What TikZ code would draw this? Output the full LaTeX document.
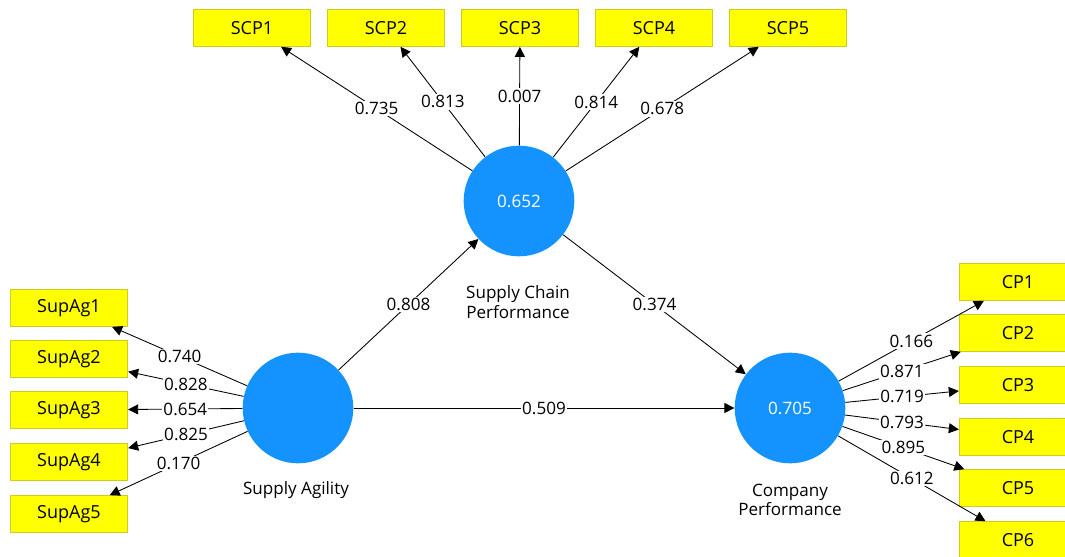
\documentclass[tikz,border=0pt]{standalone}
\usepackage{fontspec}
\setmainfont{Open Sans}
\usepackage{tikz}
\usetikzlibrary{arrows.meta}
\definecolor{lvblue}{RGB}{20,147,255}
\definecolor{mvyellow}{RGB}{255,255,0}
\definecolor{mvborder}{RGB}{205,205,30}
\tikzstyle{latent}=[circle,fill=lvblue,minimum size=83pt,inner sep=0pt,text=white]
\tikzstyle{manifest}=[rectangle,fill=mvyellow,draw=mvborder,line width=.75pt,minimum width=88pt,minimum height=27.5pt,inner sep=0pt,font=\fontsize{13.5pt}{15pt}\selectfont]
\tikzstyle{ld}=[line width=.65pt,-{Triangle[length=7.5pt,width=7.5pt]}]
\tikzstyle{val}=[fill=white,inner sep=1pt,pos=.5]

\begin{document}
\begin{tikzpicture}[x=.75pt,y=-.75pt,font=\fontsize{12.8pt}{14.5pt}\selectfont]
	\useasboundingbox (0,0) rectangle (1065,557);
	\node[latent] (SCP) at (519,201) {0.652};
	\node[latent] (SA) at (298,408) {};
	\node[latent] (CP) at (790,408) {0.705};
	\node[align=center] (SCPlab) at (518,302) {Supply Chain\\Performance};
	\node (SAlab) at (296,490) {Supply Agility};
	\node[align=center] (CPlab) at (790,500) {Company\\Performance};
	\node[manifest] (scp1) at (252,28) {SCP1};
	\node[manifest] (scp2) at (386,28) {SCP2};
	\node[manifest] (scp3) at (520,28) {SCP3};
	\node[manifest] (scp4) at (654,28) {SCP4};
	\node[manifest] (scp5) at (788,28) {SCP5};
	\node[manifest] (sa1) at (69,308) {SupAg1};
	\node[manifest] (sa2) at (69,359) {SupAg2};
	\node[manifest] (sa3) at (69,410) {SupAg3};
	\node[manifest] (sa4) at (69,462) {SupAg4};
	\node[manifest] (sa5) at (69,514) {SupAg5};
	\node[manifest] (cp1) at (1018,282) {CP1};
	\node[manifest] (cp2) at (1018,333) {CP2};
	\node[manifest] (cp3) at (1018,385) {CP3};
	\node[manifest] (cp4) at (1018,437) {CP4};
	\node[manifest] (cp5) at (1018,488) {CP5};
	\node[manifest] (cp6) at (1018,540) {CP6};
	\draw[ld] (SCP) --node[val]{0.735} (scp1);
	\draw[ld] (SCP) --node[val]{0.813} (scp2);
	\draw[ld] (SCP) --node[val]{0.007} (scp3);
	\draw[ld] (SCP) --node[val]{0.814} (scp4);
	\draw[ld] (SCP) --node[val]{0.678} (scp5);
	\draw[ld] (SA) --node[val]{0.740} (sa1);
	\draw[ld] (SA) --node[val]{0.828} (sa2);
	\draw[ld] (SA) --node[val]{0.654} (sa3);
	\draw[ld] (SA) --node[val]{0.825} (sa4);
	\draw[ld] (SA) --node[val]{0.170} (sa5);
	\draw[ld] (CP) --node[val]{0.166} (cp1);
	\draw[ld] (CP) --node[val]{0.871} (cp2);
	\draw[ld] (CP) --node[val]{0.719} (cp3);
	\draw[ld] (CP) --node[val]{0.793} (cp4);
	\draw[ld] (CP) --node[val]{0.895} (cp5);
	\draw[ld] (CP) --node[val]{0.612} (cp6);
	\draw[ld] (SA) --node[val]{0.808} (SCP);
	\draw[ld] (SCP) --node[val]{0.374} (CP);
	\draw[ld] (SA) --node[val]{0.509} (CP);
\end{tikzpicture}
\end{document}
